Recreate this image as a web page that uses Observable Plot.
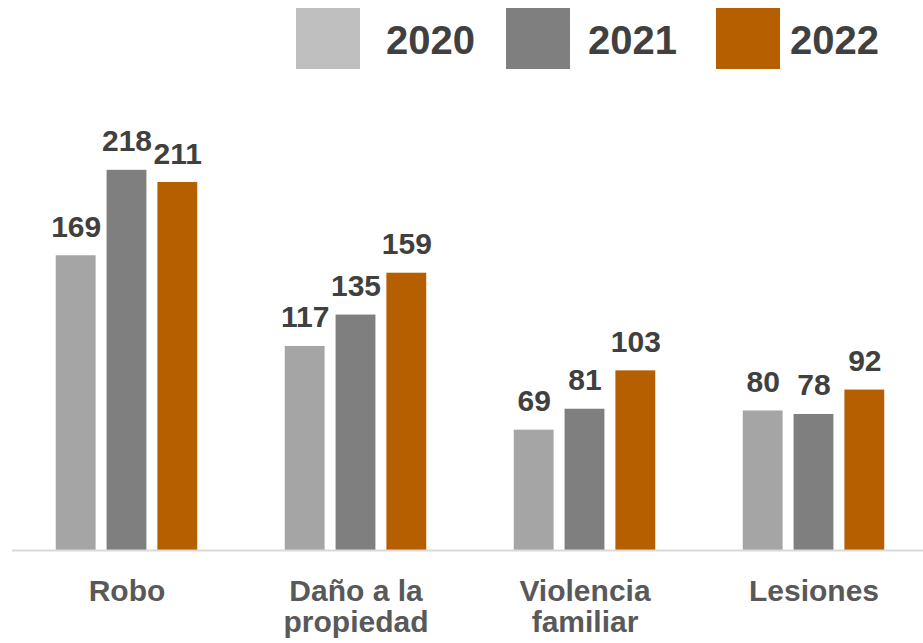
<!DOCTYPE html>
<html>
<head>
<meta charset="utf-8">
<script src="https://cdn.jsdelivr.net/npm/d3@7"></script>
<script src="https://cdn.jsdelivr.net/npm/@observablehq/plot@0.6"></script>
<style>
  html, body { margin: 0; padding: 0; background: #fff; }
  #wrap { width: 923px; font-family: "Liberation Sans", Arial, sans-serif; }
  #legend { display: block; }
  svg { display: block; }
</style>
</head>
<body>
<div id="wrap">
  <svg id="legend" width="923" height="80"></svg>
  <div id="chart"></div>
</div>
<script>
const categories = ["Robo", "Daño a la propiedad", "Violencia familiar", "Lesiones"];
const tickLabels = ["Robo", "Daño a la\npropiedad", "Violencia\nfamiliar", "Lesiones"];
const years = ["2020", "2021", "2022"];
const values2020 = [169, 117, 69, 80];
const values2021 = [218, 135, 81, 78];
const values2022 = [211, 159, 103, 92];
const barColors = ["#a5a5a5", "#7f7f7f", "#b55f00"];
const legendColors = ["#bfbfbf", "#7f7f7f", "#b55f00"];

const series = [values2020, values2021, values2022];
const data = [];
categories.forEach((c, i) => {
  years.forEach((y, j) => data.push({category: c, year: y, value: series[j][i]}));
});

// legend (drawn above the chart)
const lg = d3.select("#legend");
const swX = [296, 506, 716];
const txX = [386, 588, 790];
years.forEach((y, j) => {
  lg.append("rect").attr("x", swX[j]).attr("y", 8).attr("width", 64).attr("height", 61)
    .attr("fill", legendColors[j]);
  lg.append("text").attr("x", txX[j]).attr("y", 54).text(y)
    .attr("font-family", "'Liberation Sans', Arial, sans-serif")
    .attr("font-size", 40).attr("font-weight", "bold").attr("fill", "#404040");
});

const labelMap = new Map(categories.map((c, i) => [c, tickLabels[i]]));

const chart = Plot.plot({
  width: 923,
  height: 563,
  marginLeft: 10.7,
  marginRight: -6.9,
  marginTop: 34,
  marginBottom: 93,
  style: {fontFamily: "'Liberation Sans', Arial, sans-serif", background: "white", overflow: "visible"},
  fx: {domain: categories, padding: 0, axis: null, label: null},
  x: {domain: years, paddingInner: 0.216, paddingOuter: 0.861, axis: null, round: false},
  y: {domain: [0, 250], axis: null},
  color: {domain: years, range: barColors},
  marks: [
    Plot.barY(data, {fx: "category", x: "year", y: "value", fill: "year"}),
    Plot.ruleY([0], {stroke: "#d9d9d9", strokeWidth: 2}),
    Plot.text(data, {fx: "category", x: "year", y: "value", text: d => String(d.value),
      dy: -19, lineAnchor: "bottom", textAnchor: "middle", fontSize: 30, fontWeight: "bold", fill: "#404040"}),
    Plot.axisFx({anchor: "bottom", tickSize: 0, tickPadding: 28, fontSize: 30, fontWeight: "bold",
      fill: "#595959", lineHeight: 1.05, label: null, tickFormat: c => labelMap.get(c)})
  ]
});
document.getElementById("chart").appendChild(chart);
</script>
</body>
</html>
